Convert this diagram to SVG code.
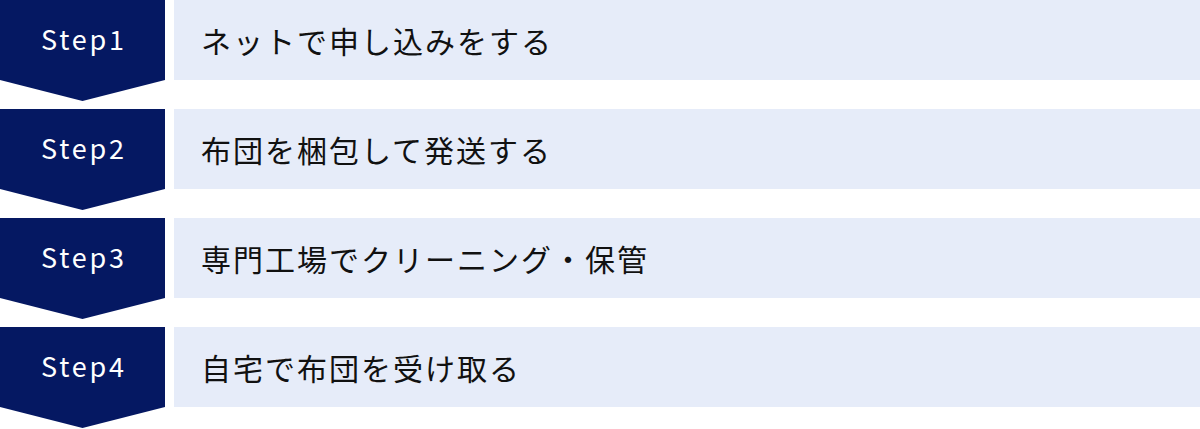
<svg xmlns="http://www.w3.org/2000/svg" width="1200" height="429" viewBox="0 0 1200 429">
<style>
.step{fill:#051862}
.box{fill:#e6ecf9}
.st{font-family:"Noto Sans CJK JP","Noto Sans",sans-serif;font-size:27px;fill:#ffffff;text-anchor:middle;letter-spacing:2.8px}
.lb{font-family:"Noto Sans CJK JP","Noto Sans CJK SC",sans-serif;font-size:30px;fill:#111111;letter-spacing:2px;dominant-baseline:central}
</style>
<rect width="1200" height="429" fill="#ffffff"/>
<g id="step1">
<path class="step" d="M0 0H165V80L82.5 101L0 80Z"/>
<rect class="box" x="174" y="0" width="1026" height="80"/>
<text class="st" x="84" y="50">Step1</text>
<text class="lb" x="201" y="40">ネットで申し込みをする</text>
</g>
<g id="step2">
<path class="step" d="M0 109H165V189L82.5 210L0 189Z"/>
<rect class="box" x="174" y="109" width="1026" height="80"/>
<text class="st" x="84" y="159">Step2</text>
<text class="lb" x="201" y="149">布団を梱包して発送する</text>
</g>
<g id="step3">
<path class="step" d="M0 218H165V298L82.5 319L0 298Z"/>
<rect class="box" x="174" y="218" width="1026" height="80"/>
<text class="st" x="84" y="268">Step3</text>
<text class="lb" x="201" y="258">専門工場でクリーニング・保管</text>
</g>
<g id="step4">
<path class="step" d="M0 327H165V407L82.5 428L0 407Z"/>
<rect class="box" x="174" y="327" width="1026" height="80"/>
<text class="st" x="84" y="377">Step4</text>
<text class="lb" x="201" y="367">自宅で布団を受け取る</text>
</g>
<g id="connectors"></g>
</svg>
